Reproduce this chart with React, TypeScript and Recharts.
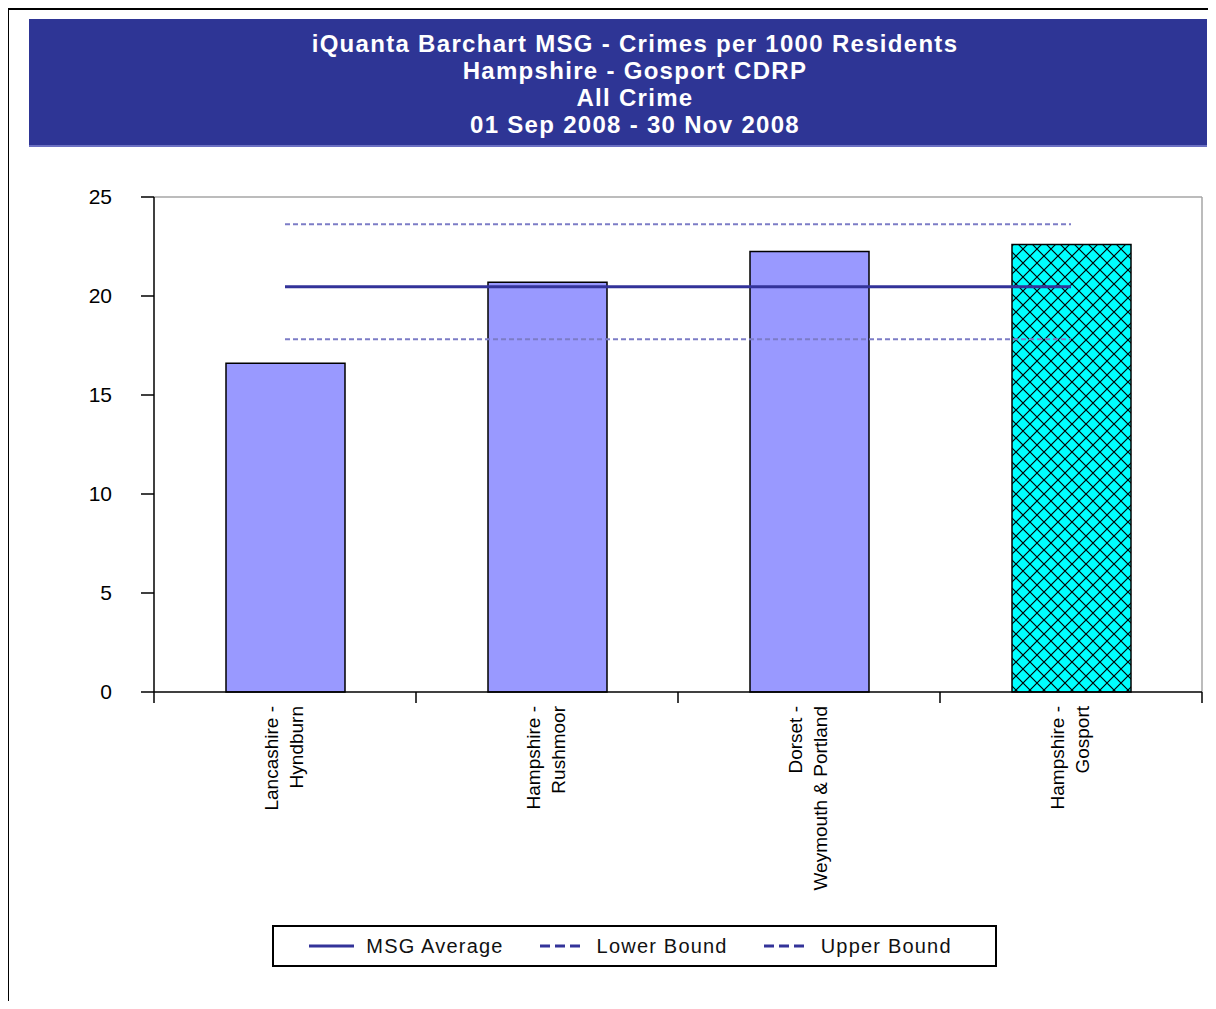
import { ComposedChart, Bar, Line, XAxis, YAxis, Cell, CartesianGrid } from 'recharts';

const CATEGORIES = [
  'Lancashire - Hyndburn',
  'Hampshire - Rushmoor',
  'Dorset - Weymouth & Portland',
  'Hampshire - Gosport',
];
const CRIMES_PER_1000 = [16.6, 20.7, 22.25, 22.6];
const MSG_AVERAGE = [20.47, 20.47, 20.47, 20.47];
const LOWER_BOUND = [17.81, 17.81, 17.81, 17.81];
const UPPER_BOUND = [23.63, 23.63, 23.63, 23.63];
const HIGHLIGHT = 'Hampshire - Gosport';
const Y_TICKS = [0, 5, 10, 15, 20, 25];

const TITLE_LINES = [
  'iQuanta Barchart MSG - Crimes per 1000 Residents',
  'Hampshire - Gosport CDRP',
  'All Crime',
  '01 Sep 2008 - 30 Nov 2008',
];

const data = CATEGORIES.map((name, i) => ({
  name,
  value: CRIMES_PER_1000[i],
  avg: MSG_AVERAGE[i],
  lower: LOWER_BOUND[i],
  upper: UPPER_BOUND[i],
}));

const LINES = [
  { key: 'avg', name: 'MSG Average', color: '#333399', width: 3, dash: undefined, legendDash: undefined },
  { key: 'lower', name: 'Lower Bound', color: '#7c7cc6', width: 2, dash: '5 3', legendDash: '10 5' },
  { key: 'upper', name: 'Upper Bound', color: '#7c7cc6', width: 2, dash: '5 3', legendDash: '10 5' },
];

const FONT = '"Liberation Sans", Arial, sans-serif';
const BAND = 262; // plot width / number of categories

const XTick = (props: any) => {
  const { x, y, payload, index } = props;
  const name: string = payload.value;
  const cut = name.indexOf(' - ');
  const first = name.slice(0, cut + 2);
  const second = name.slice(cut + 3);
  return (
    <g>
      {index === 0 && (
        <line x1={x - BAND / 2} y1={y} x2={x - BAND / 2} y2={y + 11} stroke="#000" strokeWidth={1.5} />
      )}
      <line x1={x + BAND / 2} y1={y} x2={x + BAND / 2} y2={y + 11} stroke="#000" strokeWidth={1.5} />
      <text
        transform={`translate(${x},${y + 14}) rotate(-90)`}
        textAnchor="end"
        fontSize={19}
        fontFamily={FONT}
        fill="#000"
      >
        <tspan x={0} y={-7}>{first}</tspan>
        <tspan x={0} y={18}>{second}</tspan>
      </text>
    </g>
  );
};

export default function App() {
  return (
    <div style={{ position: 'relative', width: 1208, height: 993, fontFamily: FONT }}>
      <div
        style={{
          position: 'absolute',
          left: 0,
          top: 0,
          width: 1208,
          height: 993,
          boxSizing: 'border-box',
          borderTop: '2px solid #000',
          borderLeft: '1.5px solid #000',
        }}
      />
      <div
        style={{
          position: 'absolute',
          left: 21,
          top: 11,
          width: 1178,
          height: 128,
          boxSizing: 'border-box',
          background: '#2e3595',
          borderBottom: '2px solid #6b70c2',
          color: '#fff',
          fontWeight: 'bold',
          fontSize: 24,
          letterSpacing: 1.3,
          lineHeight: '27px',
          display: 'flex',
          flexDirection: 'column',
          alignItems: 'center',
          justifyContent: 'center',
          paddingTop: 3,
          paddingLeft: 34,
        }}
      >
        {TITLE_LINES.map((t) => (
          <div key={t}>{t}</div>
        ))}
      </div>

      <div style={{ position: 'absolute', left: 0, top: 150 }}>
        <ComposedChart
          width={1200}
          height={840}
          data={data}
          margin={{ top: 39, right: 6, bottom: 56, left: 66 }}
        >
          <defs>
            <pattern id="crosshatch" patternUnits="userSpaceOnUse" width={14} height={14}>
              <rect width={14} height={14} fill="#00ffff" />
              <path d="M0,0 L14,14 M14,0 L0,14" stroke="#000" strokeWidth={1.2} />
            </pattern>
          </defs>
          <CartesianGrid
            stroke="#a6a6a6"
            strokeWidth={1.5}
            horizontalCoordinatesGenerator={({ offset }: any) => [offset.top]}
            verticalCoordinatesGenerator={({ offset }: any) => [offset.left + offset.width]}
          />
          <XAxis
            dataKey="name"
            interval={0}
            height={250}
            tickSize={0}
            tickMargin={0}
            tickLine={false}
            tick={<XTick />}
            axisLine={{ stroke: '#000', strokeWidth: 1.5 }}
          />
          <YAxis
            width={80}
            domain={[0, 25]}
            ticks={Y_TICKS}
            interval={0}
            tickSize={13}
            tickMargin={29}
            tick={{ fontSize: 21, fill: '#000', fontFamily: FONT }}
            tickLine={{ stroke: '#000', strokeWidth: 1.5 }}
            axisLine={{ stroke: '#000', strokeWidth: 1.5 }}
          />
          <Bar dataKey="value" barSize={119} stroke="#000" strokeWidth={1.5} isAnimationActive={false}>
            {data.map((d) => (
              <Cell key={d.name} fill={d.name === HIGHLIGHT ? 'url(#crosshatch)' : '#9999ff'} />
            ))}
          </Bar>
          {LINES.map((l) => (
            <Line
              key={l.key}
              dataKey={l.key}
              name={l.name}
              type="linear"
              stroke={l.color}
              strokeWidth={l.width}
              strokeDasharray={l.dash}
              dot={false}
              activeDot={false}
              isAnimationActive={false}
            />
          ))}
        </ComposedChart>
      </div>

      <div
        style={{
          position: 'absolute',
          left: 264,
          top: 917,
          width: 725,
          height: 42,
          boxSizing: 'border-box',
          border: '2px solid #000',
          display: 'flex',
          alignItems: 'center',
          justifyContent: 'center',
          gap: 36,
          fontSize: 20,
          letterSpacing: 1.2,
          color: '#111',
          paddingRight: 8,
        }}
      >
        {LINES.map((l) => (
          <div key={l.key} style={{ display: 'flex', alignItems: 'center', gap: 12 }}>
            <svg width={45} height={6}>
              <line x1={0} y1={3} x2={45} y2={3} stroke="#333399" strokeWidth={3} strokeDasharray={l.legendDash} />
            </svg>
            <span>{l.name}</span>
          </div>
        ))}
      </div>
    </div>
  );
}
